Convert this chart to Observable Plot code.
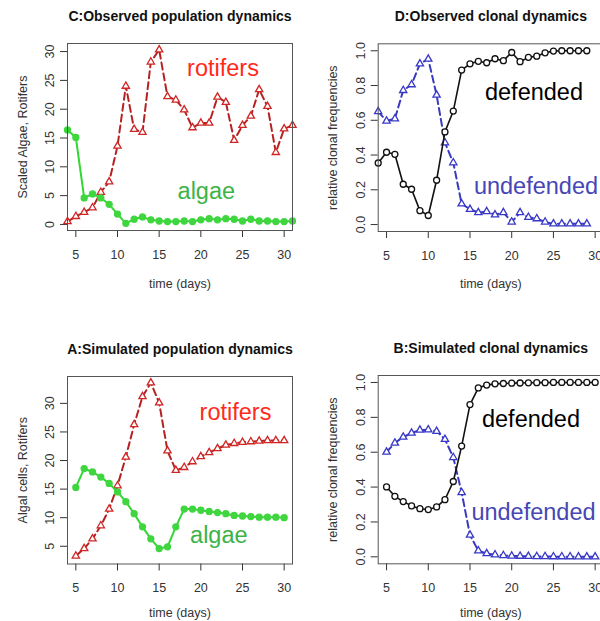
<!DOCTYPE html>
<html>
<head>
<meta charset="utf-8">
<script src="https://cdn.jsdelivr.net/npm/d3@7"></script>
<script src="https://cdn.jsdelivr.net/npm/@observablehq/plot@0.6"></script>
<style>
  html, body { margin: 0; padding: 0; background: #fff; overflow: hidden; }
  #root { position: relative; width: 600px; height: 621px; overflow: hidden; background: #fff; }
  #root svg { position: absolute; }
</style>
</head>
<body>
<div id="root"></div>
<script>
// ---------- data ----------
const obsDays = [4,5,6,7,8,9,10,11,12,13,14,15,16,17,18,19,20,21,22,23,24,25,26,27,28,29,30,31];
const obsRotifers = [0.5,1.4,2.1,2.9,5.6,7.4,13.6,24.0,16.5,16.0,28.2,30.3,22.2,21.6,19.9,16.8,17.6,17.6,22.1,21.2,14.6,17.2,18.8,23.4,20.5,12.5,16.6,17.2];
const obsAlgae = [16.4,15.1,4.6,5.3,4.6,3.5,1.8,0.2,0.9,1.3,0.8,0.6,0.5,0.5,0.6,0.5,0.8,1.0,0.8,1.0,0.9,0.6,0.9,0.6,0.6,0.5,0.5,0.6];

const cloneDays = [4,5,6,7,8,9,10,11,12,13,14,15,16,17,18,19,20,21,22,23,24,25,26,27,28,29];
const obsDefended = [0.354,0.416,0.404,0.232,0.203,0.08,0.052,0.255,0.533,0.653,0.889,0.925,0.939,0.931,0.954,0.943,0.99,0.937,0.962,0.969,0.988,0.998,1.0,1.0,1.0,1.0];
const obsUndefended = [0.65,0.596,0.609,0.772,0.805,0.925,0.952,0.745,0.471,0.356,0.119,0.088,0.069,0.075,0.056,0.069,0.015,0.069,0.042,0.034,0.015,0.004,0.004,0.004,0.004,0.004];

const simDays = [5,6,7,8,9,10,11,12,13,14,15,16,17,18,19,20,21,22,23,24,25,26,27,28,29,30];
const simRotifers = [3.3,4.6,6.3,8.6,11.5,15.6,20.6,26.3,31.2,33.6,30.1,21.7,18.3,18.8,19.8,20.7,21.4,22.1,22.7,23.0,23.2,23.3,23.4,23.5,23.5,23.5];
const simAlgae = [15.3,18.6,18.0,17.1,16.0,14.5,12.8,10.7,8.4,6.3,4.6,4.9,8.4,11.5,11.5,11.3,11.1,10.9,10.7,10.4,10.3,10.2,10.1,10.1,10.1,10.0];
const simDefended = [0.401,0.347,0.317,0.292,0.276,0.271,0.286,0.328,0.432,0.635,0.873,0.969,0.985,0.992,0.994,0.996,0.997,0.998,0.999,0.999,1.0,1.0,1.0,1.0,1.0,1.0];
const simUndefended = [0.601,0.653,0.687,0.71,0.727,0.729,0.72,0.674,0.57,0.369,0.125,0.035,0.019,0.012,0.008,0.005,0.004,0.003,0.002,0.002,0.001,0.001,0.001,0.0,0.0,0.0];

const xTicks = [5,10,15,20,25,30];
const popTicksC = [0,5,10,15,20,25,30];
const popTicksA = [5,10,15,20,25,30];
const freqTicks = [0,0.2,0.4,0.6,0.8,1.0];

const titles = {
  C: "C:Observed population dynamics",
  D: "D:Observed clonal dynamics",
  A: "A:Simulated population dynamics",
  B: "B:Simulated clonal dynamics"
};
const xLabel = "time (days)";
const yLabels = {
  C: "Scaled Algae, Rotifers",
  D: "relative clonal frequencies",
  A: "Algal cells, Rotifers",
  B: "relative clonal frequencies"
};
const seriesNames = {rot: "rotifers", alg: "algae", def: "defended", undef: "undefended"};

// ---------- styles ----------
const FONT = "'Liberation Sans', Arial, Helvetica, sans-serif";
const RED_LINE = "#b52222", RED_PT = "#d02525", RED_TXT = "#ff2a1a";
const GREEN_LINE = "#33d633", GREEN_PT = "#3fd63f", GREEN_TXT = "#3cb346";
const BLUE_LINE = "#3a3abf", BLUE_PT = "#3838c8", BLUE_TXT = "#4646b4";
const BLACK = "#111";

const zip = (xs, ys) => xs.map((x, i) => ({x, y: ys[i]}));

function series(data, {dashed, lineColor, ptColor, symbol, fill, lw, r}) {
  return [
    Plot.line(data, {x: "x", y: "y", stroke: lineColor, strokeWidth: lw, strokeDasharray: dashed ? "7,4" : null}),
    Plot.dot(data, {x: "x", y: "y", symbol, r, stroke: ptColor, strokeWidth: 1.3, fill: fill ? ptColor : "white"})
  ];
}

function panel({left, top, width, height, mt, mb, ml, mr, yDomain, yTicks, yFmt, title, ylabel, layers, labels, xlabDy}) {
  const svg = Plot.plot({
    width, height,
    marginTop: mt, marginBottom: mb, marginLeft: ml, marginRight: mr,
    x: {domain: [4, 31]},
    y: {domain: yDomain},
    style: {fontFamily: FONT, fontSize: "12px", color: "#333", background: "white"},
    marks: [
      Plot.axisX({ticks: xTicks, tickSize: 7, tickPadding: 12.5, label: null, fontSize: 12.5}),
      Plot.axisY({ticks: yTicks, tickSize: 7, tickPadding: 6.5, tickRotate: -90, tickFormat: yFmt, label: null, fontSize: 12.5}),
      ...layers,
      Plot.frame({stroke: "#555", strokeWidth: 1}),
      Plot.text([title], {text: d => d, frameAnchor: "top", dy: -23, lineAnchor: "bottom", textAnchor: "middle", fontWeight: "bold", fontSize: 14, fill: "#111"}),
      Plot.text([xLabel], {text: d => d, frameAnchor: "bottom", dy: xlabDy, lineAnchor: "bottom", textAnchor: "middle", fontSize: 12.5, fill: "#333"}),
      Plot.text([ylabel], {text: d => d, frameAnchor: "left", dx: -45, rotate: -90, textAnchor: "middle", lineAnchor: "middle", fontSize: 12.5, fill: "#333"}),
      ...labels.map(l => Plot.text([l], {x: "x", y: "y", text: "text", fill: l.color, fontSize: 23.5, lineAnchor: "bottom", textAnchor: "middle"}))
    ]
  });
  svg.style.left = left + "px";
  svg.style.top = top + "px";
  return svg;
}

const root = document.getElementById("root");
const fmt1 = d3.format(".1f");

// C: observed population
root.appendChild(panel({
  left: 0, top: 0, width: 300, height: 310, mt: 43, mb: 80, ml: 67, mr: 8,
  yDomain: [-1.05, 31.4], yTicks: popTicksC, yFmt: d => String(d),
  title: titles.C, ylabel: yLabels.C, xlabDy: 57,
  layers: [
    ...series(zip(obsDays, obsRotifers), {dashed: true, lineColor: RED_LINE, ptColor: RED_PT, symbol: "triangle", fill: false, lw: 2, r: 2.7}),
    ...series(zip(obsDays, obsAlgae), {dashed: false, lineColor: GREEN_LINE, ptColor: GREEN_PT, symbol: "circle", fill: true, lw: 2, r: 3})
  ],
  labels: [
    {x: 22.66, y: 25.7, text: seriesNames.rot, color: RED_TXT},
    {x: 20.66, y: 4.33, text: seriesNames.alg, color: GREEN_TXT}
  ]
}));

// D: observed clonal
root.appendChild(panel({
  left: 300, top: 0, width: 303, height: 310, mt: 43.3, mb: 79, ml: 77.7, mr: 0,
  yDomain: [-0.04, 1.04], yTicks: freqTicks, yFmt: fmt1,
  title: titles.D, ylabel: yLabels.D, xlabDy: 56,
  layers: [
    ...series(zip(cloneDays, obsUndefended), {dashed: true, lineColor: BLUE_LINE, ptColor: BLUE_PT, symbol: "triangle", fill: false, lw: 2, r: 2.7}),
    ...series(zip(cloneDays, obsDefended), {dashed: false, lineColor: BLACK, ptColor: BLACK, symbol: "circle", fill: false, lw: 1.6, r: 3})
  ],
  labels: [
    {x: 22.67, y: 0.714, text: seriesNames.def, color: "#000"},
    {x: 22.91, y: 0.177, text: seriesNames.undef, color: BLUE_TXT}
  ]
}));

// A: simulated population
root.appendChild(panel({
  left: 0, top: 310, width: 300, height: 311, mt: 66, mb: 57.5, ml: 67, mr: 8,
  yDomain: [1.9, 34.7], yTicks: popTicksA, yFmt: d => String(d),
  title: titles.A, ylabel: yLabels.A, xlabDy: 53,
  layers: [
    ...series(zip(simDays, simRotifers), {dashed: true, lineColor: RED_LINE, ptColor: RED_PT, symbol: "triangle", fill: false, lw: 2, r: 2.7}),
    ...series(zip(simDays, simAlgae), {dashed: false, lineColor: GREEN_LINE, ptColor: GREEN_PT, symbol: "circle", fill: true, lw: 2, r: 3})
  ],
  labels: [
    {x: 24.16, y: 27.17, text: seriesNames.rot, color: RED_TXT},
    {x: 22.16, y: 5.57, text: seriesNames.alg, color: GREEN_TXT}
  ]
}));

// B: simulated clonal
root.appendChild(panel({
  left: 300, top: 310, width: 303, height: 311, mt: 65, mb: 57.7, ml: 77.7, mr: 0,
  yDomain: [-0.04, 1.04], yTicks: freqTicks, yFmt: fmt1,
  title: titles.B, ylabel: yLabels.B, xlabDy: 53.4,
  layers: [
    ...series(zip(simDays, simUndefended), {dashed: true, lineColor: BLUE_LINE, ptColor: BLUE_PT, symbol: "triangle", fill: false, lw: 2, r: 2.7}),
    ...series(zip(simDays, simDefended), {dashed: false, lineColor: BLACK, ptColor: BLACK, symbol: "circle", fill: false, lw: 1.6, r: 3})
  ],
  labels: [
    {x: 22.31, y: 0.744, text: seriesNames.def, color: "#000"},
    {x: 22.61, y: 0.209, text: seriesNames.undef, color: BLUE_TXT}
  ]
}));
</script>
</body>
</html>
